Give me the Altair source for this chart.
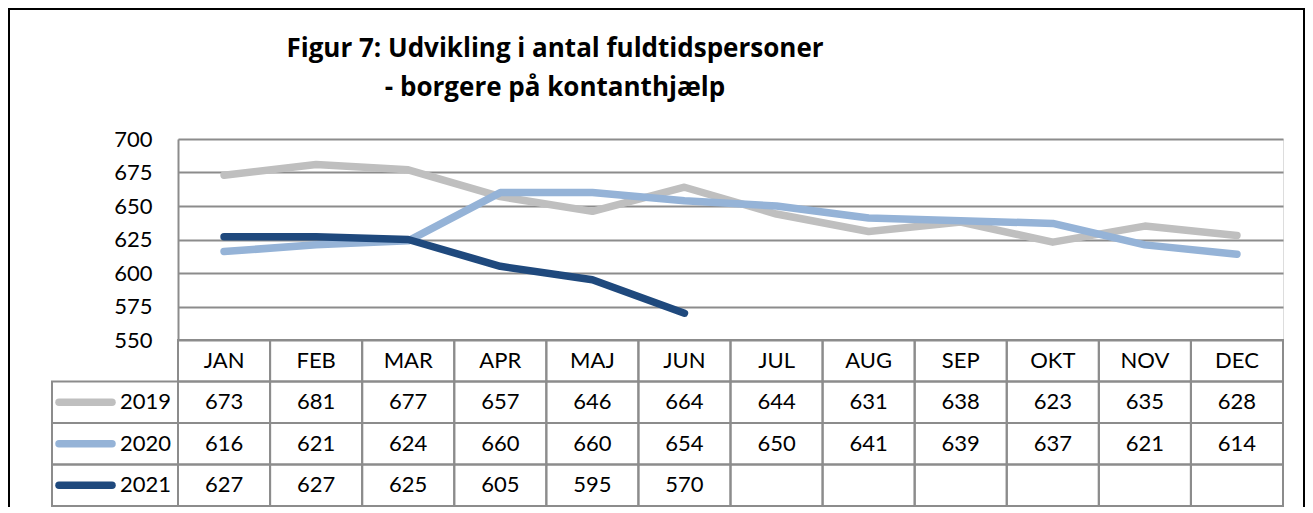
import altair as alt
import pandas as pd

months = ["JAN", "FEB", "MAR", "APR", "MAJ", "JUN", "JUL", "AUG", "SEP", "OKT", "NOV", "DEC"]
series = ["2019", "2020", "2021"]
v2019 = [673, 681, 677, 657, 646, 664, 644, 631, 638, 623, 635, 628]
v2020 = [616, 621, 624, 660, 660, 654, 650, 641, 639, 637, 621, 614]
v2021 = [627, 627, 625, 605, 595, 570]
colors = ["#BFBFBF", "#95B3D7", "#1F497D"]
y_ticks = [550, 575, 600, 625, 650, 675, 700]
title_lines = ["Figur 7: Udvikling i antal fuldtidspersoner", "- borgere på kontanthjælp"]

recs = []
for s, vals in zip(series, [v2019, v2020, v2021]):
    for m, v in zip(months, vals):
        recs.append({"month": m, "series": s, "value": v, "label": str(v)})
df = pd.DataFrame(recs)

row_keys = ["hdr"] + series
cells = pd.DataFrame([{"month": m, "row": r} for r in row_keys for m in months])
hdr = pd.DataFrame({"month": months, "row": "hdr", "label": months})
vals_txt = df.rename(columns={"series": "row"})[["month", "row", "label"]]
table_text = pd.concat([hdr, vals_txt], ignore_index=True)
legend_df = pd.DataFrame({"row": series, "series": series})

W, H = 1105, 367
PLOT_H = 201
GRID = "#8C8C8C"
FONT = "Lato"
TITLE_FONT = "Open Sans"

xs = alt.Scale(domain=months, type="band", paddingInner=0, paddingOuter=0)
cs = alt.Scale(domain=series, range=colors)
ys_tab = alt.Scale(domain=row_keys, range=[PLOT_H, H], type="band", paddingInner=0, paddingOuter=0)


def xband(center=True):
    if center:
        return alt.X("month:N", sort=months, scale=xs, axis=None, bandPosition=0.5)
    return alt.X("month:N", sort=months, scale=xs, axis=None)


def yrow(center=True):
    if center:
        return alt.Y("row:N", sort=row_keys, scale=ys_tab, axis=None, bandPosition=0.5)
    return alt.Y("row:N", sort=row_keys, scale=ys_tab, axis=None)


border = alt.Chart(alt.Data(values=[{}])).mark_rect(
    fill="transparent", stroke="#000000", strokeWidth=2
).encode(
    x=alt.value(-169), y=alt.value(-130), x2=alt.value(1126), y2=alt.value(430)
)

lines = alt.Chart(df).mark_line(
    strokeWidth=7.5, strokeCap="round", strokeJoin="round"
).encode(
    x=xband(True),
    y=alt.Y(
        "value:Q",
        scale=alt.Scale(domain=[550, 700], range=[PLOT_H, 0], nice=False, zero=False),
        axis=alt.Axis(
            values=y_ticks, title=None, ticks=False, labelPadding=26,
            labelFontSize=22, labelColor="#000000", labelFont=FONT,
            grid=True, gridColor=GRID, gridWidth=2,
            domainColor=GRID, domainWidth=2,
        ),
    ),
    color=alt.Color("series:N", scale=cs, legend=None),
)

cell_rects = alt.Chart(cells).mark_rect(
    fill="transparent", stroke=GRID, strokeWidth=2
).encode(x=xband(False), y=yrow(False))

cell_text = alt.Chart(table_text).mark_text(
    fontSize=22, font=FONT, color="#000000", baseline="middle", align="center"
).encode(x=xband(True), y=yrow(True), text="label:N")

legend_cells = alt.Chart(legend_df).mark_rect(
    fill="transparent", stroke=GRID, strokeWidth=2
).encode(x=alt.value(-126), x2=alt.value(0), y=yrow(False))

swatches = alt.Chart(legend_df).mark_rule(
    strokeWidth=7.5, strokeCap="round"
).encode(
    x=alt.value(-119), x2=alt.value(-66), y=yrow(True),
    color=alt.Color("series:N", scale=cs, legend=None),
)

legend_text = alt.Chart(legend_df).mark_text(
    fontSize=22, font=FONT, color="#000000", baseline="middle", align="right"
).encode(x=alt.value(-7), y=yrow(True), text="row:N")

table = alt.layer(cell_rects, cell_text, legend_cells, swatches, legend_text)

chart = alt.layer(border, lines, table).resolve_scale(y="independent").properties(
    width=W,
    height=H,
    title=alt.TitleParams(
        text=title_lines, anchor="middle", dx=-175.5, offset=-93,
        fontSize=26, font=TITLE_FONT, fontWeight="bold", lineHeight=39, color="#000000",
    ),
    autosize=alt.AutoSizeParams(type="none"),
    padding={"left": 170, "top": 131, "right": 22, "bottom": 1},
).configure_view(strokeWidth=0).configure(font=FONT)

chart.save("out.html", embed_options={"renderer": "svg", "actions": False})
